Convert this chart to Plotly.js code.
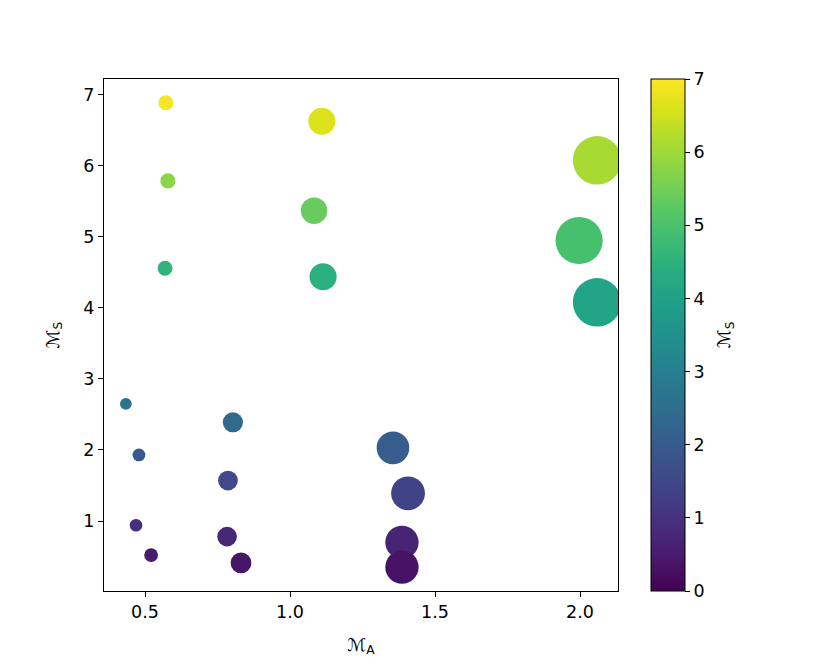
<!DOCTYPE html>
<html>
<head>
<meta charset="utf-8">
<script src="https://cdn.plot.ly/plotly-3.0.1.min.js"></script>
<style>html,body{margin:0;padding:0;background:#fff;}</style>
</head>
<body>
<div id="chart" style="width:830px;height:664px;"></div>
<script>
// Alfvénic Mach number (x) and sonic Mach number (y / colour)
const machA = [0.572, 0.579, 0.569, 0.434, 0.479, 0.469, 0.521,
               1.110, 1.083, 1.114,
               0.803, 0.786, 0.783, 0.831,
               1.355, 1.407, 1.386, 1.386,
               2.059, 1.997, 2.059];
const machS = [6.89, 5.79, 4.56, 2.65, 1.93, 0.94, 0.52,
               6.63, 5.37, 4.44,
               2.39, 1.57, 0.78, 0.41,
               2.03, 1.39, 0.70, 0.35,
               6.08, 4.95, 4.08];
const xTicks = [0.5, 1.0, 1.5, 2.0];
const yTicks = [1, 2, 3, 4, 5, 6, 7];
const cbTicks = [0, 1, 2, 3, 4, 5, 6, 7];

const font = {family: 'DejaVu Sans, sans-serif', size: 17.5, color: '#000'};
const sizes = machA.map(v => 22.6 * v + 2);

const trace = {
  type: 'scatter', mode: 'markers',
  x: machA, y: machS,
  marker: {
    size: sizes,
    color: machS,
    colorscale: 'Viridis',
    cmin: 0, cmax: 7,
    line: {width: 0},
    opacity: 1,
    colorbar: {
      x: 1.064, xanchor: 'left', xref: 'paper',
      y: 0.5, yanchor: 'middle',
      len: 1, lenmode: 'fraction',
      thickness: 34, thicknessmode: 'pixels',
      outlinewidth: 1, outlinecolor: '#000',
      ticks: 'outside', ticklen: 5, tickwidth: 1, tickcolor: '#000',
      tickvals: cbTicks, ticktext: cbTicks.map(String),
      tickfont: font,
      xpad: 0, ypad: 0
    }
  },
  showlegend: false,
  hoverinfo: 'x+y'
};

const layout = {
  width: 830, height: 664,
  margin: {l: 104, r: 212, t: 79, b: 73},
  paper_bgcolor: '#fff', plot_bgcolor: '#fff',
  font: font,
  xaxis: {
    range: [0.3586, 2.131],
    tickvals: xTicks, ticktext: xTicks.map(v => v.toFixed(1)),
    ticks: 'outside', ticklen: 5, tickwidth: 1, tickcolor: '#000',
    showline: true, linecolor: '#000', linewidth: 1, mirror: true,
    showgrid: false, zeroline: false,
    tickfont: font,
    title: {text: 'ℳ<sub>A</sub>', font: font, standoff: 17}
  },
  yaxis: {
    range: [0.0141, 7.225],
    tickvals: yTicks, ticktext: yTicks.map(String),
    ticks: 'outside', ticklen: 5, tickwidth: 1, tickcolor: '#000',
    showline: true, linecolor: '#000', linewidth: 1, mirror: true,
    showgrid: false, zeroline: false,
    tickfont: font,
    title: {text: 'ℳ<sub>S</sub>', font: font, standoff: 19}
  },
  annotations: [{
    text: 'ℳ<sub>S</sub>', font: font,
    xref: 'paper', yref: 'paper',
    x: 1.2082, y: 0.5, xanchor: 'center', yanchor: 'middle',
    textangle: -90, showarrow: false
  }]
};

Plotly.newPlot('chart', [trace], layout, {displayModeBar: false, staticPlot: true});
</script>
</body>
</html>
